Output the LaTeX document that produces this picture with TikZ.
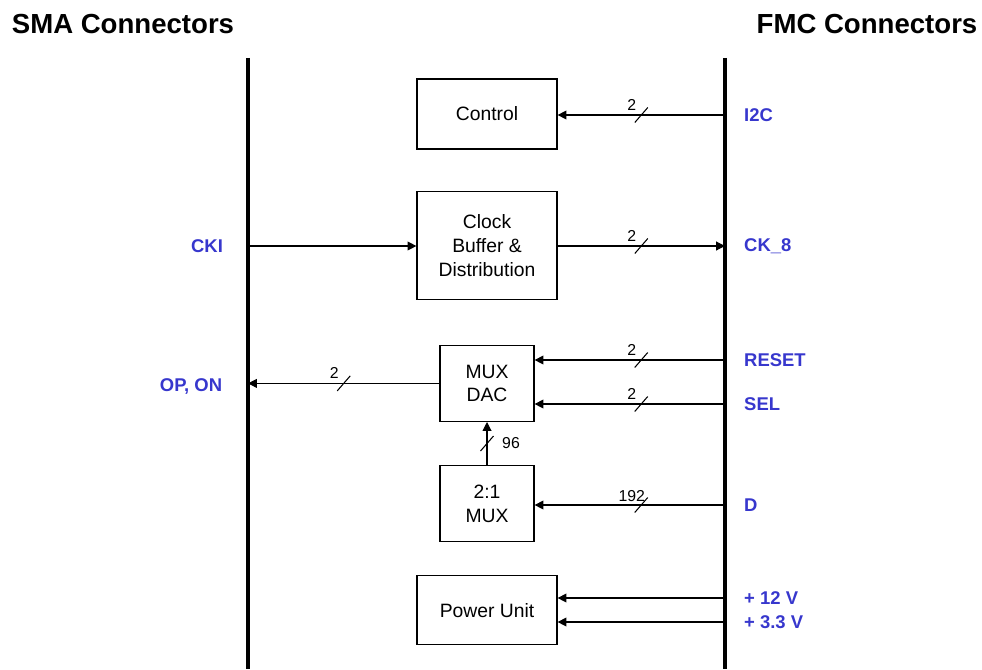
\documentclass[tikz,border=0pt]{standalone}
\usepackage{fontspec}
\setmainfont{Liberation Sans}
\usetikzlibrary{arrows.meta,positioning}
\definecolor{sigblue}{RGB}{55,55,205}

\begin{document}
\begin{tikzpicture}[x=0.02cm,y=-0.02cm,>={Triangle[length=5pt,width=5pt]}]
  \tikzstyle{box}=[draw,line width=0.7pt,align=center,inner sep=0pt,font=\fontsize{11}{13.6}\selectfont]
  \tikzstyle{sig}=[anchor=west,font=\fontsize{10.5}{12.5}\selectfont\bfseries,text=sigblue]
  \tikzstyle{title}=[font=\fontsize{15.7}{18}\selectfont\bfseries]
  \tikzstyle{bus}=[line width=2.3pt]
  \tikzstyle{wire}=[line width=0.6pt,->]
  \tikzstyle{num}=[font=\fontsize{9}{10}\selectfont,inner sep=0pt,xshift=-0.19cm,yshift=0.21cm]
  \tikzset{slash/.pic={\draw[-,line width=0.6pt] (-6.5,7.5) -- (6.5,-7.5);}}
  \useasboundingbox (0,0) rectangle (982,669);

  % connector rails
  \node[title] (sma) at (123,24) {SMA Connectors};
  \node[title] (fmc) at (867,24) {FMC Connectors};
  \coordinate (lbus) at (248,58);
  \coordinate (rbus) at (725,58);
  \draw[bus] (lbus) -- (248,669);
  \draw[bus] (rbus) -- (725,669);

  % blocks
  \node[box,minimum width=2.8cm,minimum height=1.4cm] (ctrl) at (487,114) {Control};
  \node[box,minimum width=2.8cm,minimum height=2.16cm,below=0.82cm of ctrl] (clk) {Clock\\Buffer \&\\Distribution};
  \node[box,minimum width=1.88cm,minimum height=1.52cm,below=0.9cm of clk] (dac) {MUX\\DAC};
  \node[box,minimum width=1.88cm,minimum height=1.52cm,below=0.86cm of dac] (mux) {2:1\\MUX};
  \node[box,minimum width=2.8cm,minimum height=1.38cm,below=0.66cm of mux] (pwr) {Power Unit};

  % signal names
  \node[sig] (i2c) at (738,115) {I2C};
  \node[sig] (ck8) at (738,246) {CK\_8};
  \node[sig] (reset) at (738,360) {RESET};
  \node[sig] (sel) at (738,404) {SEL};
  \node[sig] (d) at (738,505) {D};
  \node[sig] (p12) at (738,598) {+ 12 V};
  \node[sig] (p33) at (738,622) {+ 3.3 V};
  \node[sig,anchor=center] (cki) at (207,246) {CKI};
  \node[sig,anchor=center] (opon) at (191,386) {OP, ON};

  % wires
  \draw[wire] (i2c.west -| rbus) -- (i2c.west -| ctrl.east) pic[pos=0.5]{slash} node[num,pos=0.5]{2};
  \draw[wire] (cki -| lbus) -- (cki -| clk.west);
  \draw[wire] (ck8.west -| clk.east) -- (ck8.west -| rbus) pic[pos=0.5]{slash} node[num,pos=0.5]{2};
  \draw[wire] (reset.west -| rbus) -- (reset.west -| dac.east) pic[pos=0.44]{slash} node[num,pos=0.44]{2};
  \draw[wire] (sel.west -| rbus) -- (sel.west -| dac.east) pic[pos=0.44]{slash} node[num,pos=0.44]{2};
  \draw[wire] (dac.west) -- (dac.west -| lbus) pic[pos=0.5]{slash} node[num,pos=0.5]{2};
  \draw[wire] (mux) -- (dac) pic[pos=0.5]{slash} node[num,pos=0.5,xshift=0.67cm,yshift=-0.21cm]{96};
  \draw[wire] (d.west -| rbus) -- (d.west -| mux.east) pic[pos=0.44]{slash} node[num,pos=0.44,yshift=-0.04cm]{192};
  \draw[wire] (p12.west -| rbus) -- (p12.west -| pwr.east);
  \draw[wire] (p33.west -| rbus) -- (p33.west -| pwr.east);
\end{tikzpicture}
\end{document}
